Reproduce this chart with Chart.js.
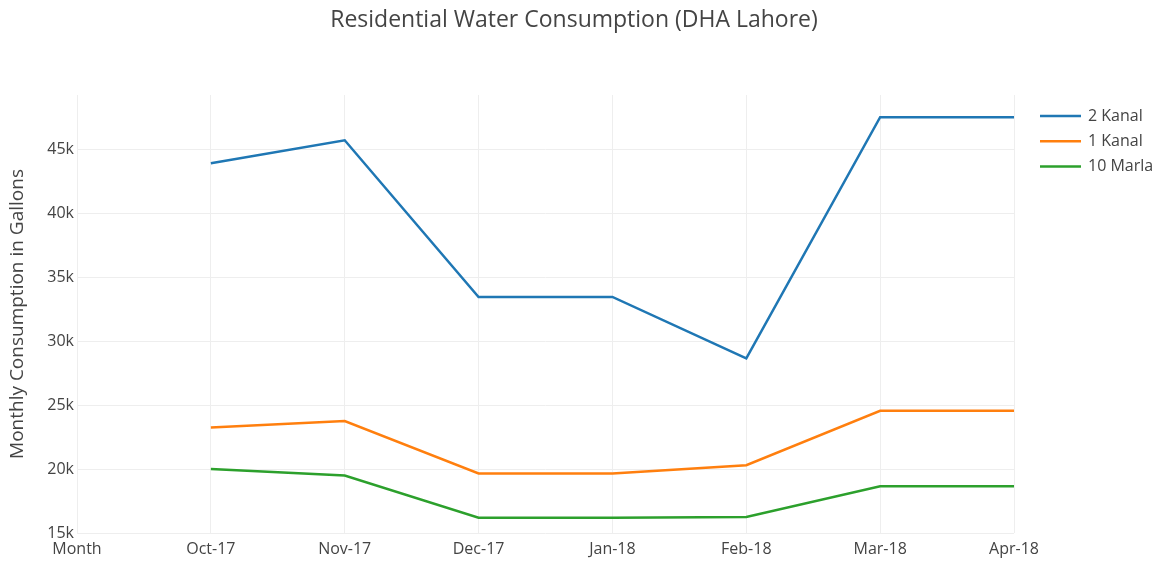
<!DOCTYPE html>
<html>
<head>
<meta charset="utf-8">
<script src="https://cdn.jsdelivr.net/npm/chart.js@4"></script>
<style>
  html, body { margin: 0; padding: 0; background: #fff; }
  #wrap { width: 1163px; height: 563px; }
</style>
</head>
<body>
<div id="wrap"><canvas id="c" width="1163" height="563"></canvas></div>
<script>
// values (gallons per month)
const months = ["Month", "Oct-17", "Nov-17", "Dec-17", "Jan-18", "Feb-18", "Mar-18", "Apr-18"];
const kanal2 = [null, 43900, 45700, 33450, 33450, 28650, 47500, 47500];
const kanal1 = [null, 23250, 23750, 19650, 19650, 20300, 24550, 24550];
const marla10 = [null, 20000, 19500, 16200, 16200, 16250, 18650, 18650];
const yTicks = [15000, 20000, 25000, 30000, 35000, 40000, 45000];
const chartTitle = "Residential Water Consumption (DHA Lahore)";

const FONT = "'Open Sans', sans-serif";
const TEXT = "#444";

// plotly-like title (centred on the whole figure) and legend on the right
const sideLegend = {
  id: "sideLegend",
  afterDraw(chart) {
    const ctx = chart.ctx;
    ctx.save();
    ctx.fillStyle = TEXT;
    ctx.textBaseline = "middle";
    ctx.textAlign = "center";
    ctx.font = "23px " + FONT;
    ctx.fillText(chartTitle, 574, 20);

    ctx.textAlign = "left";
    ctx.font = "16px " + FONT;
    chart.data.datasets.forEach((ds, i) => {
      const y = 116 + i * 25.3;
      ctx.strokeStyle = ds.borderColor;
      ctx.lineWidth = 2.5;
      ctx.beginPath();
      ctx.moveTo(1040, y);
      ctx.lineTo(1081, y);
      ctx.stroke();
      ctx.fillText(ds.label, 1088, y);
    });
    ctx.restore();
  }
};

new Chart(document.getElementById("c"), {
  type: "line",
  data: {
    labels: months,
    datasets: [
      { label: "2 Kanal", data: kanal2, borderColor: "#1f77b4" },
      { label: "1 Kanal", data: kanal1, borderColor: "#ff7f0e" },
      { label: "10 Marla", data: marla10, borderColor: "#2ca02c" }
    ]
  },
  options: {
    responsive: false,
    animation: false,
    layout: { padding: { left: 0, right: 149, top: 95, bottom: 0 } },
    elements: {
      line: { borderWidth: 2.5, tension: 0, fill: false },
      point: { radius: 0, hoverRadius: 0 }
    },
    plugins: {
      legend: { display: false },
      tooltip: { enabled: false },
      title: { display: false }
    },
    scales: {
      x: {
        offset: false,
        grid: { color: "#eee", drawTicks: false },
        border: { display: false },
        ticks: { color: TEXT, font: { family: FONT, size: 16 }, padding: 7, maxRotation: 0, autoSkip: false },
        afterFit(s) { s.height = 30; }
      },
      y: {
        min: 15000,
        max: 49240,
        grid: { color: "#eee", drawTicks: false },
        border: { display: false },
        afterBuildTicks(s) { s.ticks = yTicks.map(v => ({ value: v })); },
        ticks: {
          color: TEXT,
          font: { family: FONT, size: 16 },
          padding: 3,
          callback: v => (v / 1000) + "k"
        },
        title: {
          display: true,
          text: "Monthly Consumption in Gallons",
          color: TEXT,
          font: { family: FONT, size: 19 },
          padding: { top: 6, bottom: 0 }
        },
        afterFit(s) { s.width = 77; }
      }
    }
  },
  plugins: [sideLegend]
});
</script>
</body>
</html>
